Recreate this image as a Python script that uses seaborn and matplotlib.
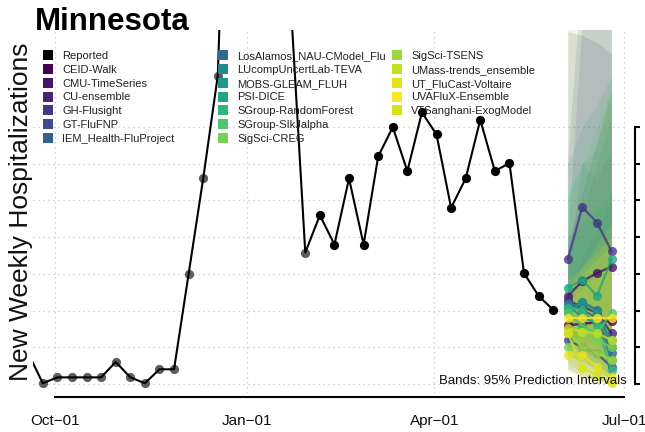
import numpy as np
import pandas as pd
import matplotlib
matplotlib.use("Agg")
import matplotlib.pyplot as plt
import matplotlib.dates as mdates
from matplotlib.lines import Line2D
import seaborn as sns

sns.set_theme(style="white")
plt.rcParams["font.family"] = ["Liberation Sans", "DejaVu Sans"]

# ---- data -------------------------------------------------------------
state = "Minnesota"

report_dates = pd.date_range("2022-09-18", periods=37, freq="7D")
report_values = [42, 1, 9, 9, 9, 9, 30, 9, 1, 20, 20, 150, 280, 420,
                 1020, 1150, 1000, 780, 520, 179, 230, 190, 280, 190, 310, 350,
                 290, 370, 340, 240, 280, 360, 290, 301, 151, 120, 101]
revision_cutoff = pd.Timestamp("2023-01-29")

forecast_dates = pd.to_datetime(["2023-06-04", "2023-06-11", "2023-06-18", "2023-06-25"])

models = ["CEID-Walk", "CMU-TimeSeries", "CU-ensemble", "GH-Flusight", "GT-FluFNP",
          "IEM_Health-FluProject", "LosAlamos_NAU-CModel_Flu", "LUcompUncertLab-TEVA",
          "MOBS-GLEAM_FLUH", "PSI-DICE", "SGroup-RandomForest", "SGroup-SIkJalpha",
          "SigSci-CREG", "SigSci-TSENS", "UMass-trends_ensemble", "UT_FluCast-Voltaire",
          "UVAFluX-Ensemble", "VTSanghani-ExogModel"]

# position of each model on the viridis ramp
color_pos = [0.0, 0.05, 0.1, 0.16, 0.23, 0.3, 0.34, 0.46, 0.53, 0.59, 0.66, 0.73,
             0.79, 0.85, 0.91, 0.96, 1.0, 0.94]

median = {
    "CEID-Walk":                [80, 82, 84, 86],
    "CMU-TimeSeries":           [120, 140, 151, 160],
    "CU-ensemble":              [114, 105, 97, 69],
    "GH-Flusight":              [170, 241, 220, 181],
    "GT-FluFNP":                [60, 50, 42, 23],
    "IEM_Health-FluProject":    [110, 101, 90, 42],
    "LosAlamos_NAU-CModel_Flu": [103, 112, 101, 50],
    "LUcompUncertLab-TEVA":     [108, 90, 84, 33],
    "MOBS-GLEAM_FLUH":          [97, 112, 97, 60],
    "PSI-DICE":                 [131, 142, 120, 170],
    "SGroup-RandomForest":      [103, 101, 79, 19],
    "SGroup-SIkJalpha":         [97, 79, 69, 97],
    "SigSci-CREG":              [50, 71, 60, 50],
    "SigSci-TSENS":             [69, 50, 42, 33],
    "UMass-trends_ensemble":    [76, 71, 69, 60],
    "UT_FluCast-Voltaire":      [40, 40, 23, 10],
    "UVAFluX-Ensemble":         [90, 90, 90, 90],
    "VTSanghani-ExogModel":     [69, 22, 12, 1],
}
lower = {
    "CEID-Walk":                [40, 30, 20, 10],
    "CMU-TimeSeries":           [70, 60, 50, 45],
    "CU-ensemble":              [60, 45, 35, 25],
    "GH-Flusight":              [110, 130, 100, 70],
    "GT-FluFNP":                [20, 10, 5, 0],
    "IEM_Health-FluProject":    [50, 35, 20, 5],
    "LosAlamos_NAU-CModel_Flu": [60, 50, 40, 20],
    "LUcompUncertLab-TEVA":     [60, 45, 35, 10],
    "MOBS-GLEAM_FLUH":          [50, 50, 40, 20],
    "PSI-DICE":                 [60, 60, 50, 60],
    "SGroup-RandomForest":      [60, 50, 30, 2],
    "SGroup-SIkJalpha":         [50, 35, 25, 30],
    "SigSci-CREG":              [20, 25, 15, 8],
    "SigSci-TSENS":             [30, 15, 10, 5],
    "UMass-trends_ensemble":    [40, 30, 25, 20],
    "UT_FluCast-Voltaire":      [15, 10, 3, 0],
    "UVAFluX-Ensemble":         [60, 50, 45, 40],
    "VTSanghani-ExogModel":     [30, 5, 0, 0],
}
upper = {
    "CEID-Walk":                [130, 170, 210, 250],
    "CMU-TimeSeries":           [190, 260, 330, 400],
    "CU-ensemble":              [480, 475, 465, 450],
    "GH-Flusight":              [200, 500, 520, 540],
    "GT-FluFNP":                [160, 300, 280, 320],
    "IEM_Health-FluProject":    [300, 560, 600, 640],
    "LosAlamos_NAU-CModel_Flu": [180, 230, 300, 360],
    "LUcompUncertLab-TEVA":     [200, 220, 240, 260],
    "MOBS-GLEAM_FLUH":          [300, 350, 380, 420],
    "PSI-DICE":                 [260, 300, 320, 380],
    "SGroup-RandomForest":      [170, 200, 230, 260],
    "SGroup-SIkJalpha":         [250, 300, 350, 400],
    "SigSci-CREG":              [150, 250, 330, 420],
    "SigSci-TSENS":             [520, 540, 560, 580],
    "UMass-trends_ensemble":    [130, 160, 190, 220],
    "UT_FluCast-Voltaire":      [110, 130, 150, 170],
    "UVAFluX-Ensemble":         [130, 150, 170, 190],
    "VTSanghani-ExogModel":     [140, 160, 180, 200],
}

# ---- long tables ---------------------------------------------------------
reported = pd.DataFrame({"date": report_dates, "value": report_values})
reported["revised"] = reported["date"] <= revision_cutoff

rows = []
for m in models:
    for d, med, lo, hi in zip(forecast_dates, median[m], lower[m], upper[m]):
        rows.append({"model": m, "date": d, "median": med, "lower": lo, "upper": hi})
fc = pd.DataFrame(rows)

cmap = sns.color_palette("viridis", as_cmap=True)
palette = {m: cmap(p) for m, p in zip(models, color_pos)}

# ---- figure ----------------------------------------------------------------
W, H = 645, 432
fig = plt.figure(figsize=(W / 100, H / 100), dpi=100)
ax = fig.add_axes([33 / W, 39 / H, 595 / W, 363 / H])

# prediction interval bands
for m in models:
    sub = fc[fc["model"] == m]
    ax.fill_between(sub["date"], sub["lower"], sub["upper"],
                    color=palette[m], alpha=0.14, linewidth=0, zorder=1)

# reported counts
sns.scatterplot(data=reported[reported["revised"]], x="date", y="value",
                color="#5e5e5e", s=44, linewidth=0, ax=ax, zorder=2, legend=False)
sns.lineplot(data=reported, x="date", y="value", color="black", linewidth=1.5,
             ax=ax, zorder=3, legend=False)
sns.scatterplot(data=reported[~reported["revised"]], x="date", y="value",
                color="black", s=44, linewidth=0, ax=ax, zorder=4, legend=False)

# model medians
sns.lineplot(data=fc, x="date", y="median", hue="model", hue_order=models,
             palette=palette, marker="o", markersize=6.6, markeredgewidth=0,
             linewidth=1.6, alpha=0.8, ax=ax, zorder=5, legend=False)

# ---- axes --------------------------------------------------------------
ppd = (624 - 55.3) / 273.0
oct1 = mdates.date2num(pd.Timestamp("2022-10-01"))
jul1 = mdates.date2num(pd.Timestamp("2023-07-01"))
ax.set_xlim(oct1 - 22.3 / ppd, jul1 + 4 / ppd)
ax.set_ylim(-12.3, 482.3)

xticks = pd.to_datetime(["2022-10-01", "2023-01-01", "2023-04-01", "2023-07-01"])
ax.set_xticks(xticks)
ax.xaxis.set_major_formatter(mdates.DateFormatter("%b\u221201"))
ax.set_yticks(np.arange(0, 351, 50))
ax.yaxis.tick_right()
ax.yaxis.set_ticklabels([])
ax.set_xlabel("")
ax.set_ylabel("")

for side in ["top", "left"]:
    ax.spines[side].set_visible(False)
for side in ["bottom", "right"]:
    ax.spines[side].set_color("black")
    ax.spines[side].set_linewidth(1.5)
ax.spines["bottom"].set_position(("outward", 4 * 0.72))
ax.spines["right"].set_position(("outward", 7 * 0.72))
ax.spines["bottom"].set_bounds(oct1, jul1)
ax.spines["right"].set_bounds(0, 350)
ax.tick_params(axis="x", direction="out", length=3.2, width=1.5, color="black",
               labelsize=11, pad=9, labelcolor="#111111")
ax.tick_params(axis="y", direction="out", length=3.6, width=1.5, color="black", right=True)

ax.grid(True, linestyle=(0, (1, 3)), color="#c4c4c4", linewidth=0.9)
ax.set_axisbelow(True)

# ---- text -------------------------------------------------------------
fig.text(35 / W, 1 - 30 / H, state, fontsize=22.5, fontweight="bold",
         ha="left", va="baseline", color="black")
fig.text(21 / W, 1 - 211.5 / H, "New Weekly Hospitalizations", rotation=90,
         fontsize=19, ha="center", va="center", color="#111111")
fig.text(627 / W, 1 - 381.5 / H, "Bands: 95% Prediction Intervals",
         fontsize=9.5, ha="right", va="center", color="#111111", zorder=10)

# ---- legend (three fixed-width columns) -----------------------------------
entries = [("Reported", "black")] + [(m, palette[m]) for m in models]
columns = [entries[0:7], entries[7:14], entries[14:]]
col_x = [43, 218, 392]
for cx, col in zip(col_x, columns):
    handles = [Line2D([], [], marker="s", linestyle="none", markersize=7,
                      markeredgewidth=0, color=c) for _, c in col]
    labels = [n for n, _ in col]
    leg = fig.legend(handles, labels, loc="upper left",
                     bbox_to_anchor=(cx / W, 1 - 51.3 / H), frameon=False,
                     fontsize=8, borderpad=0, borderaxespad=0, handlelength=0.9,
                     handletextpad=0.85, labelspacing=0.335)
    for t in leg.get_texts():
        t.set_color("#222222")

fig.savefig("out.png", dpi=100)
